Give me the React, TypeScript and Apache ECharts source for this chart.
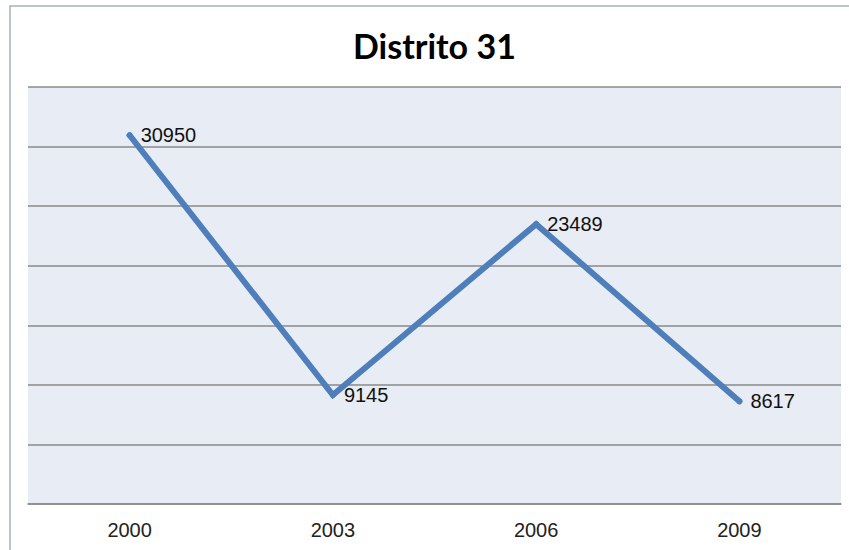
import React, { useEffect, useRef } from "react";
import * as echarts from "echarts";

const titleText = "Distrito 31";
const years = ["2000", "2003", "2006", "2009"];
const values = [30950, 9145, 23489, 8617];
const yMax = 35000;
const yStep = 5000;

export default function App() {
  const ref = useRef<HTMLDivElement>(null);
  useEffect(() => {
    if (!ref.current) return;
    const chart = echarts.init(ref.current, null, { renderer: "svg" });
    chart.setOption({
      animation: false,
      backgroundColor: "#ffffff",
      title: {
        text: titleText,
        left: 348,
        top: 23,
        textStyle: {
          fontFamily: "Lato, 'Open Sans', sans-serif",
          fontWeight: "bold",
          fontSize: 34,
          color: "#000000",
        },
      },
      graphic: [
        {
          type: "rect",
          shape: { x: 10, y: 6, width: 860, height: 600 },
          style: { fill: "none", stroke: "#a3b1bb", lineWidth: 1.5 },
          z: 100,
        },
      ],
      grid: {
        left: 28,
        right: 8,
        top: 87,
        bottom: 46,
        show: true,
        backgroundColor: "#e8ecf4",
        borderWidth: 0,
      },
      xAxis: {
        type: "category",
        data: years,
        boundaryGap: true,
        axisLine: { show: true, lineStyle: { color: "#8a8a8a", width: 1.5 } },
        axisTick: { show: false },
        axisLabel: {
          color: "#222222",
          fontFamily: "'Liberation Sans', Arial, sans-serif",
          fontSize: 20,
          margin: 16,
        },
      },
      yAxis: {
        type: "value",
        min: 0,
        max: yMax,
        interval: yStep,
        axisLabel: { show: false },
        axisLine: { show: false },
        axisTick: { show: false },
        splitLine: { show: true, lineStyle: { color: "#8a8a8a", width: 1.5 } },
      },
      series: [
        {
          type: "line",
          data: values,
          symbol: "circle",
          symbolSize: 6,
          showSymbol: true,
          itemStyle: { color: "#4f7fbb" },
          lineStyle: { color: "#4f7fbb", width: 6, cap: "round", join: "miter" },
          label: {
            show: true,
            position: "right",
            distance: 8,
            offset: [0, 0],
            color: "#111111",
            fontFamily: "'Liberation Sans', Arial, sans-serif",
            fontSize: 20,
          },
        },
      ],
    });
    return () => chart.dispose();
  }, []);
  return (
    <div
      ref={ref}
      style={{ position: "absolute", left: 0, top: 0, width: 849, height: 550 }}
    />
  );
}
